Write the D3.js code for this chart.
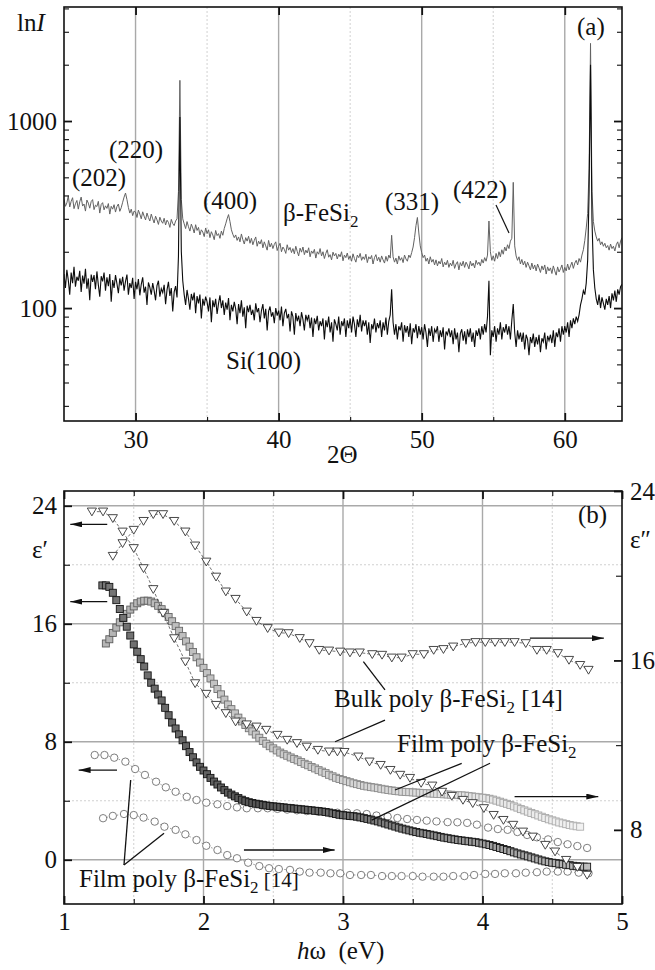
<!DOCTYPE html>
<html>
<head>
<meta charset="utf-8">
<script src="https://cdn.jsdelivr.net/npm/d3@7"></script>
<style>
  body { margin: 0; background: #fff; }
  text { font-family: "Liberation Serif", "Times New Roman", serif; }
</style>
</head>
<body>
<div id="chart"></div>
<script>
// ---------------- data: panel (a) XRD, 2-theta from 25 deg in 0.1 deg steps ----------------
let xrdStart = 25, xrdStep = 0.1;

let fesi2Counts = [
  382,350,365,398,347,372,389,340,361,376, 338,370,392,351,360,330,378,364,342,371,
  380,336,355,349,372,322,358,366,335,352, 341,362,318,350,338,357,326,349,360,329,
  344,368,392,412,380,345,322,338,312,330, 326,305,334,318,300,327,310,296,322,305,
  292,318,300,285,310,296,280,306,292,284, 302,278,295,287,270,298,283,276,292,300,
  420,1650,380,300,282,266,290,272,258,281, 268,252,279,260,270,246,262,255,241,268,
  250,262,238,256,246,232,260,244,250,236, 258,245,266,282,300,316,290,262,248,238,
  246,230,240,226,249,232,220,238,228,242, 222,236,218,230,240,214,228,220,232,210,
  226,215,204,230,212,222,208,219,226,203, 214,222,200,212,206,196,218,204,211,198,
  208,195,214,201,190,209,199,212,193,204, 197,210,188,202,196,206,185,200,194,208,
  190,200,184,196,205,187,193,181,199,190, 196,183,194,188,200,179,192,186,197,182,
  190,178,195,184,176,192,186,196,180,188, 182,194,175,188,183,191,172,186,193,179,
  187,176,190,181,174,189,178,192,185,245, 188,176,185,172,190,180,186,175,192,183,
  178,192,186,198,212,238,276,305,252,215, 198,186,192,178,185,172,188,176,182,170,
  181,168,178,172,184,166,176,170,180,165, 174,168,180,163,172,177,160,175,168,178,
  165,176,170,162,178,168,174,164,180,171, 176,168,182,174,186,178,192,292,200,180,
  190,178,196,184,200,188,205,194,212,202, 218,208,228,236,470,215,190,180,188,172,
  182,170,178,165,176,168,160,174,162,170, 158,172,164,155,168,160,170,152,166,158,
  164,153,168,158,150,166,156,162,170,155, 165,158,172,160,168,176,163,174,180,170,
  184,176,192,205,230,268,320,560,2600,420, 290,258,240,228,236,218,226,214,222,210,
  216,204,220,208,214,202,218,226,210,228, 238
];

let siCounts = [
  152,128,160,141,118,155,136,166,130,147, 140,158,122,149,135,162,127,144,110,151,
  138,150,126,157,133,115,148,139,155,124, 146,131,152,108,141,128,150,135,120,144,
  132,147,124,139,151,118,136,128,145,112, 138,126,143,117,134,146,121,130,104,137,
  129,118,136,124,110,132,140,115,127,121, 133,105,125,138,116,128,96,122,131,114,
  190,1050,200,140,118,104,125,112,98,119, 110,121,94,116,106,118,88,112,103,115,
  108,96,114,84,110,101,112,93,106,117, 100,110,92,107,98,113,86,104,96,108,
  99,82,105,94,110,90,101,78,103,95, 104,92,98,86,106,95,100,84,97,105,
  88,99,76,96,102,90,95,83,100,91, 97,86,102,80,94,99,88,93,75,96,
  90,72,94,85,91,80,95,87,76,92, 86,92,78,89,70,88,82,91,76,85,
  80,88,68,86,79,90,74,84,66,87, 82,76,90,72,85,80,88,70,86,78,
  88,74,90,82,70,87,79,92,75,86, 80,86,72,84,65,82,77,88,74,83,
  78,86,70,84,76,89,72,85,92,126, 84,72,82,68,80,76,84,66,81,74,
  80,70,83,64,78,74,82,69,80,72, 79,68,82,74,62,78,71,80,66,77,
  74,80,66,76,70,79,60,75,72,78, 70,76,64,78,68,74,58,73,77,67,
  75,64,77,70,78,66,74,62,76,71, 78,68,80,72,82,74,90,140,56,76,
  70,80,66,78,72,84,68,79,74,82, 72,80,68,86,105,74,62,76,68,74,
  66,74,60,72,68,56,70,65,73,62, 70,64,72,58,69,66,74,60,71,67,
  72,65,76,62,74,70,78,66,80,72, 80,74,84,70,86,78,88,82,90,85,
  92,104,112,124,118,136,180,420,2000,300, 160,128,112,104,118,100,114,106,98,112,
  104,116,100,120,110,124,108,126,118,130, 134
];

let xrdMajorTicks = [30, 40, 50, 60];
let xrdMinorTicks = [35, 45, 55];
let countMajorTicks = [100, 1000];
let countMinorTicks = [30,40,50,60,70,80,90,200,300,400,500,600,700,800,900,2000,3000,4000];

// ---------------- data: panel (b) dielectric functions ----------------
// bulk poly beta-FeSi2 [14], triangles
let bulkEnergy1 = [1.20,1.28,1.35,1.42,1.50,1.57,1.64,1.71,1.79,1.87,1.94,2.02,2.09,2.16,2.23,2.31,2.38,2.45,2.53,2.60,
  2.67,2.74,2.82,2.90,2.96,3.01,3.11,3.19,3.27,3.34,3.41,3.48,3.56,3.64,3.71,3.78,3.86,3.93,4.01,4.08,
  4.15,4.22,4.29,4.36,4.45,4.52,4.60,4.68,4.75];
let bulkEps1 = [23.6,23.6,23.15,22.24,21.12,19.76,18.34,16.73,15.01,13.43,11.96,11.24,10.49,9.93,9.36,9.17,9.02,8.80,8.46,8.12,
  7.90,7.66,7.44,7.33,7.33,7.30,6.99,6.65,6.42,6.08,5.75,5.54,5.20,5.02,4.60,4.32,4.05,3.83,3.49,3.03,
  2.69,2.36,1.90,1.56,1.00,0.55,-0.02,-0.50,-1.03];

let bulkEnergy2 = [1.35,1.42,1.50,1.57,1.64,1.71,1.79,1.87,1.94,2.02,2.09,2.16,2.23,2.31,2.38,2.46,2.54,2.61,2.69,2.76,
  2.83,2.90,2.98,3.05,3.12,3.21,3.28,3.35,3.42,3.50,3.58,3.65,3.72,3.79,3.88,3.95,4.02,4.09,4.16,4.23,
  4.31,4.39,4.46,4.54,4.62,4.70,4.76];
let bulkEps2 = [20.93,21.53,22.16,22.58,22.90,22.90,22.58,22.08,21.42,20.66,19.95,19.25,18.90,18.30,17.86,17.52,17.31,17.28,17.05,16.81,
  16.49,16.46,16.41,16.37,16.37,16.29,16.26,16.13,16.13,16.29,16.29,16.49,16.53,16.65,16.81,16.86,16.86,16.86,16.86,16.86,
  16.81,16.49,16.49,16.34,16.02,15.78,15.55];

// film poly beta-FeSi2 (this work), squares, 0.025 eV steps
let filmStep = 0.025;
let filmEps1Start = 1.275;
let filmEps1 = [
  18.6,18.6,18.5,18.1,17.6,17.0,16.4,15.8,15.2,14.6, 14.1,13.6,13.1,12.5,12.0,11.6,11.2,10.8,10.3,9.8,
  9.3,8.9,8.5,8.1,7.7,7.3,6.95,6.6,6.3,6.05, 5.8,5.55,5.3,5.1,4.9,4.72,4.55,4.42,4.3,4.18,
  4.07,3.97,3.9,3.85,3.8,3.76,3.72,3.68,3.65,3.62, 3.6,3.57,3.55,3.52,3.5,3.47,3.45,3.42,3.4,3.37,
  3.35,3.32,3.3,3.27,3.24,3.2,3.15,3.1,3.05,3.02, 3.0,2.97,2.95,2.92,2.87,2.82,2.77,2.72,2.66,2.6,
  2.53,2.46,2.39,2.32,2.25,2.18,2.11,2.05,1.99,1.93, 1.88,1.83,1.79,1.75,1.7,1.65,1.6,1.55,1.5,1.46,
  1.42,1.38,1.34,1.31,1.28,1.25,1.22,1.19,1.15,1.1, 1.05,1.0,0.94,0.87,0.8,0.73,0.66,0.58,0.5,0.43,
  0.36,0.3,0.23,0.16,0.09,0.02,-0.05,-0.11,-0.16,-0.2, -0.23,-0.27,-0.3,-0.34,-0.37,-0.41,-0.44,-0.46,-0.47,-0.47
];
let filmEps2Start = 1.30;
let filmEps2 = [
  16.8,17.0,17.3,17.55,17.8,18.0,18.2,18.4,18.55,18.7, 18.78,18.82,18.82,18.78,18.7,18.58,18.42,18.25,18.05,17.85,
  17.62,17.4,17.15,16.9,16.65,16.4,16.15,15.9,15.65,15.4, 15.15,14.9,14.65,14.4,14.15,13.92,13.7,13.5,13.3,13.12,
  12.95,12.8,12.65,12.5,12.35,12.2,12.07,11.95,11.85,11.75, 11.65,11.57,11.5,11.42,11.35,11.28,11.2,11.12,11.05,10.97,
  10.9,10.82,10.75,10.68,10.6,10.53,10.46,10.4,10.35,10.3, 10.25,10.2,10.16,10.12,10.08,10.05,10.02,10.0,9.97,9.94,
  9.91,9.88,9.86,9.84,9.82,9.8,9.79,9.78,9.77,9.76, 9.75,9.74,9.73,9.72,9.71,9.7,9.69,9.68,9.67,9.66,
  9.65,9.64,9.63,9.62,9.6,9.58,9.56,9.54,9.52,9.5, 9.47,9.43,9.38,9.33,9.28,9.23,9.17,9.11,9.05,8.98,
  8.92,8.86,8.8,8.74,8.68,8.62,8.56,8.5,8.45,8.4, 8.35,8.31,8.27,8.23,8.2,8.17,8.15
];

// film poly beta-FeSi2 [14], circles
let refEnergy1 = [1.22,1.29,1.36,1.44,1.51,1.58,1.66,1.73,1.80,1.88,1.95,2.02,2.10,2.17,2.24,2.31,2.39,2.46,2.53,2.60,
  2.67,2.74,2.82,2.89,2.96,3.03,3.10,3.17,3.24,3.32,3.39,3.46,3.53,3.60,3.67,3.75,3.82,3.89,3.96,4.04,
  4.11,4.18,4.25,4.32,4.39,4.47,4.54,4.61,4.68,4.75];
let refEps1 = [7.10,7.10,6.92,6.65,6.15,5.75,5.29,4.91,4.61,4.27,4.05,3.87,3.76,3.64,3.55,3.49,3.49,3.49,3.45,3.40,
  3.35,3.30,3.26,3.22,3.19,3.19,3.15,3.10,3.00,2.93,2.83,2.76,2.70,2.65,2.60,2.55,2.54,2.50,2.38,2.18,
  2.08,2.03,1.88,1.68,1.52,1.38,1.20,1.05,0.93,0.80];

let refEnergy2 = [1.28,1.35,1.43,1.50,1.57,1.65,1.72,1.80,1.87,1.95,2.02,2.10,2.17,2.24,2.32,2.40,2.47,2.54,2.62,2.69,
  2.76,2.84,2.91,2.98,3.05,3.13,3.20,3.28,3.35,3.42,3.50,3.57,3.65,3.72,3.79,3.87,3.94,4.02,4.09,4.16,
  4.24,4.31,4.39,4.46,4.54,4.61,4.69,4.76];
let refEps2 = [8.55,8.66,8.75,8.70,8.58,8.39,8.15,8.00,7.79,7.52,7.25,7.05,6.81,6.66,6.45,6.29,6.19,6.15,6.11,6.03,
  5.98,5.98,5.95,5.95,5.87,5.87,5.87,5.82,5.82,5.82,5.82,5.79,5.79,5.79,5.82,5.82,5.87,5.92,5.92,5.95,
  5.95,5.98,6.00,6.03,6.03,6.03,5.98,5.95];

let energyTicks = [1, 2, 3, 4, 5];
let energyMinor = [1.5, 2.5, 3.5, 4.5];
let eps1Major = [0, 8, 16, 24];
let eps1Minor = [4, 12, 20];
let eps2Labels = [8, 16, 24];
let eps2Minor = [12, 20];

// ---------------- svg ----------------
let width = 655, height = 970;
let fontSize = 25;

let svg = d3.select("#chart")
  .append("svg")
  .attr("width", width)
  .attr("height", height)
  .style("background", "#fff");

let defs = svg.append("defs");
defs.append("marker")
  .attr("id", "arrow")
  .attr("viewBox", "0 0 12 6")
  .attr("refX", 12).attr("refY", 3)
  .attr("markerWidth", 12).attr("markerHeight", 6)
  .attr("markerUnits", "userSpaceOnUse")
  .attr("orient", "auto")
  .append("path").attr("d", "M0,0 L12,3 L0,6 Z").attr("fill", "#111");

function styleAxis(g, bold) {
  g.select(".domain").remove();
  g.selectAll(".tick line").attr("stroke", "#111").attr("stroke-width", bold ? 1.8 : 1.1);
  g.selectAll(".tick text").attr("fill", "#111")
    .attr("font-family", "Liberation Serif, Times New Roman, serif")
    .attr("font-size", fontSize);
  g.attr("font-family", null).attr("font-size", null);
}

////////////////////////////////////////////////////////////
//////////////// Panel (a) /////////////////////////////////
////////////////////////////////////////////////////////////
let a = { left: 64, right: 622, top: 7, bottom: 421 };
let xA = d3.scaleLinear().domain([25, 64]).range([a.left, a.right]);
let yA = d3.scaleLog().domain([24.9, 4070]).range([a.bottom, a.top]);

let gA = svg.append("g").attr("class", "panel-a");

defs.append("clipPath").attr("id", "clipA")
  .append("rect").attr("x", a.left).attr("y", a.top)
  .attr("width", a.right - a.left).attr("height", a.bottom - a.top);

gA.selectAll(".vgrid").data(xrdMajorTicks).enter().append("line")
  .attr("x1", d => xA(d)).attr("x2", d => xA(d))
  .attr("y1", a.top).attr("y2", a.bottom)
  .attr("stroke", "#a9a9a9").attr("stroke-width", 1.4);
gA.selectAll(".vgrid2").data(xrdMinorTicks).enter().append("line")
  .attr("x1", d => xA(d)).attr("x2", d => xA(d))
  .attr("y1", a.top).attr("y2", a.bottom)
  .attr("stroke", "#c4c4c4").attr("stroke-width", 0.8).attr("stroke-dasharray", "2,2");

let xrdLine = d3.line()
  .x((d, i) => xA(xrdStart + i * xrdStep))
  .y(d => yA(d));

let traces = gA.append("g").attr("clip-path", "url(#clipA)");
traces.append("path").datum(fesi2Counts)
  .attr("d", xrdLine).attr("fill", "none")
  .attr("stroke", "#626262").attr("stroke-width", 1);
traces.append("path").datum(siCounts)
  .attr("d", xrdLine).attr("fill", "none")
  .attr("stroke", "#0c0c0c").attr("stroke-width", 1.1);

// axes
gA.append("g").attr("transform", `translate(0,${a.bottom})`)
  .call(d3.axisBottom(xA).tickValues(xrdMajorTicks).tickSizeInner(-8).tickSizeOuter(0).tickPadding(9).tickFormat(d3.format("d")))
  .call(g => styleAxis(g, true));
gA.append("g").attr("transform", `translate(0,${a.bottom})`)
  .call(d3.axisBottom(xA).tickValues(xrdMinorTicks).tickSizeInner(-4).tickSizeOuter(0).tickFormat(""))
  .call(g => styleAxis(g, false));
gA.append("g").attr("transform", `translate(0,${a.top})`)
  .call(d3.axisTop(xA).tickValues(xrdMajorTicks).tickSizeInner(-8).tickSizeOuter(0).tickFormat(""))
  .call(g => styleAxis(g, true));
gA.append("g").attr("transform", `translate(${a.left},0)`)
  .call(d3.axisLeft(yA).tickValues(countMajorTicks).tickSizeInner(-8).tickSizeOuter(0).tickPadding(7).tickFormat(d3.format("d")))
  .call(g => styleAxis(g, true));
gA.append("g").attr("transform", `translate(${a.left},0)`)
  .call(d3.axisLeft(yA).tickValues(countMinorTicks).tickSizeInner(-5).tickSizeOuter(0).tickFormat(""))
  .call(g => styleAxis(g, false));
gA.append("g").attr("transform", `translate(${a.right},0)`)
  .call(d3.axisRight(yA).tickValues(countMajorTicks).tickSizeInner(-8).tickSizeOuter(0).tickFormat(""))
  .call(g => styleAxis(g, true));
gA.append("g").attr("transform", `translate(${a.right},0)`)
  .call(d3.axisRight(yA).tickValues(countMinorTicks).tickSizeInner(-5).tickSizeOuter(0).tickFormat(""))
  .call(g => styleAxis(g, false));

gA.append("rect")
  .attr("x", a.left).attr("y", a.top)
  .attr("width", a.right - a.left).attr("height", a.bottom - a.top)
  .attr("fill", "none").attr("stroke", "#111").attr("stroke-width", 1.6);

// labels
function addText(g, x, y, str, size) {
  return g.append("text").attr("x", x).attr("y", y)
    .attr("font-size", size || fontSize).attr("fill", "#111").text(str);
}
function addSubText(g, x, y, main, sub, tail, tailSize) {
  let t = g.append("text").attr("x", x).attr("y", y)
    .attr("font-size", fontSize).attr("fill", "#111");
  t.append("tspan").text(main);
  t.append("tspan").attr("dy", 6).attr("font-size", 17).text(sub);
  if (tail) t.append("tspan").attr("dy", -6).attr("font-size", tailSize || fontSize).text(tail);
  return t;
}

let lnI = gA.append("text").attr("x", 17).attr("y", 31).attr("font-size", fontSize).attr("fill", "#111");
lnI.append("tspan").text("ln");
lnI.append("tspan").attr("font-style", "italic").text("I");
addText(gA, 327, 463, "2\u0398");
addText(gA, 577, 35, "(a)");
addText(gA, 72, 186, "(202)");
addText(gA, 109, 158, "(220)");
addText(gA, 203, 209, "(400)");
addText(gA, 385, 210, "(331)");
addText(gA, 453, 198, "(422)");
addSubText(gA, 283, 221, "\u03b2-FeSi", "2");
addText(gA, 226, 369, "Si(100)");
gA.append("line").attr("x1", 496).attr("y1", 205).attr("x2", 509).attr("y2", 233)
  .attr("stroke", "#111").attr("stroke-width", 1.2);

////////////////////////////////////////////////////////////
//////////////// Panel (b) /////////////////////////////////
////////////////////////////////////////////////////////////
let b = { left: 64, right: 622, top: 491, bottom: 904 };
let xB = d3.scaleLinear().domain([1, 5]).range([b.left, b.right]);
let yL = d3.scaleLinear().domain([-3, 25]).range([b.bottom, b.top]);
let yR = d3.scaleLinear().domain([4.5, 24]).range([b.bottom, b.top]);

let gB = svg.append("g").attr("class", "panel-b");
defs.append("clipPath").attr("id", "clipB")
  .append("rect").attr("x", b.left).attr("y", b.top)
  .attr("width", b.right - b.left).attr("height", b.bottom - b.top);

gB.selectAll(".hgrid").data(eps1Major).enter().append("line")
  .attr("x1", b.left).attr("x2", b.right)
  .attr("y1", d => yL(d)).attr("y2", d => yL(d))
  .attr("stroke", "#a9a9a9").attr("stroke-width", 1.4);
gB.selectAll(".hgrid2").data(eps1Minor).enter().append("line")
  .attr("x1", b.left).attr("x2", b.right)
  .attr("y1", d => yL(d)).attr("y2", d => yL(d))
  .attr("stroke", "#c4c4c4").attr("stroke-width", 0.8).attr("stroke-dasharray", "2,2");
gB.selectAll(".vgrid").data([2, 3, 4]).enter().append("line")
  .attr("x1", d => xB(d)).attr("x2", d => xB(d))
  .attr("y1", b.top).attr("y2", b.bottom)
  .attr("stroke", "#a9a9a9").attr("stroke-width", 1.4);
gB.selectAll(".vgrid2").data(energyMinor).enter().append("line")
  .attr("x1", d => xB(d)).attr("x2", d => xB(d))
  .attr("y1", b.top).attr("y2", b.bottom)
  .attr("stroke", "#c4c4c4").attr("stroke-width", 0.8).attr("stroke-dasharray", "2,2");

let marks = gB.append("g").attr("clip-path", "url(#clipB)");

function zip(xs, ys) { return ys.map((v, i) => [xs[i], v]); }
function stepped(start, ys) { return ys.map((v, i) => [start + i * filmStep, v]); }

// film [14] circles
let circleSets = [
  { pts: zip(refEnergy1, refEps1), y: yL },
  { pts: zip(refEnergy2, refEps2), y: yR }
];
circleSets.forEach(s => {
  marks.append("path").datum(s.pts)
    .attr("d", d3.line().x(d => xB(d[0])).y(d => s.y(d[1])))
    .attr("fill", "none").attr("stroke", "#666").attr("stroke-width", 0.7).attr("stroke-dasharray", "1.5,2");
  marks.selectAll(null).data(s.pts).enter().append("circle")
    .attr("cx", d => xB(d[0])).attr("cy", d => s.y(d[1])).attr("r", 3.7)
    .attr("fill", "#fff").attr("stroke", "#6f6f6f").attr("stroke-width", 0.9);
});

// film squares
let lightSq = stepped(filmEps2Start, filmEps2);
let darkSq = stepped(filmEps1Start, filmEps1);
let lightStroke = d3.scaleLinear().domain([1.3, 4.7]).range(["#5a5a5a", "#b0b0b0"]);
let lightFill = d3.scaleLinear().domain([1.3, 4.7]).range(["#b5b5b5", "#f2f2f2"]);
marks.selectAll(".sqL").data(lightSq).enter().append("rect")
  .attr("x", d => xB(d[0]) - 3.5).attr("y", d => yR(d[1]) - 3.5)
  .attr("width", 7).attr("height", 7)
  .attr("fill", d => lightFill(d[0])).attr("stroke", d => lightStroke(d[0])).attr("stroke-width", 0.9);
let darkFill = d3.scaleLinear().domain([1.3, 2.4, 4.7]).range(["#777", "#555", "#bbb"]);
marks.selectAll(".sqD").data(darkSq).enter().append("rect")
  .attr("x", d => xB(d[0]) - 3.5).attr("y", d => yL(d[1]) - 3.5)
  .attr("width", 7).attr("height", 7)
  .attr("fill", d => darkFill(d[0])).attr("stroke", "#151515").attr("stroke-width", 0.9);

// bulk triangles
let triangle = "M-4.6,-3.6 L4.6,-3.6 L0,4.2 Z";
let triSets = [
  { pts: zip(bulkEnergy1, bulkEps1), y: yL },
  { pts: zip(bulkEnergy2, bulkEps2), y: yR }
];
triSets.forEach(s => {
  marks.append("path").datum(s.pts)
    .attr("d", d3.line().x(d => xB(d[0])).y(d => s.y(d[1])))
    .attr("fill", "none").attr("stroke", "#333").attr("stroke-width", 0.7).attr("stroke-dasharray", "3,2");
  marks.selectAll(null).data(s.pts).enter().append("path")
    .attr("d", triangle)
    .attr("transform", d => `translate(${xB(d[0])},${s.y(d[1])})`)
    .attr("fill", "#fff").attr("stroke", "#333").attr("stroke-width", 0.9);
});

// axes
gB.append("g").attr("transform", `translate(0,${b.bottom})`)
  .call(d3.axisBottom(xB).tickValues(energyTicks).tickSizeInner(-8).tickSizeOuter(0).tickPadding(8).tickFormat(d3.format("d")))
  .call(g => styleAxis(g, true));
gB.append("g").attr("transform", `translate(0,${b.bottom})`)
  .call(d3.axisBottom(xB).tickValues(energyMinor).tickSizeInner(-5).tickSizeOuter(0).tickFormat(""))
  .call(g => styleAxis(g, false));
gB.append("g").attr("transform", `translate(0,${b.top})`)
  .call(d3.axisTop(xB).tickValues(energyTicks).tickSizeInner(-8).tickSizeOuter(0).tickFormat(""))
  .call(g => styleAxis(g, true));
gB.append("g").attr("transform", `translate(0,${b.top})`)
  .call(d3.axisTop(xB).tickValues(energyMinor).tickSizeInner(-5).tickSizeOuter(0).tickFormat(""))
  .call(g => styleAxis(g, false));
gB.append("g").attr("transform", `translate(${b.left},0)`)
  .call(d3.axisLeft(yL).tickValues(eps1Major).tickSizeInner(-8).tickSizeOuter(0).tickPadding(7).tickFormat(d3.format("d")))
  .call(g => styleAxis(g, true));
gB.append("g").attr("transform", `translate(${b.left},0)`)
  .call(d3.axisLeft(yL).tickValues(eps1Minor).tickSizeInner(-6).tickSizeOuter(0).tickFormat(""))
  .call(g => styleAxis(g, false));
gB.append("g").attr("transform", `translate(${b.right},0)`)
  .call(d3.axisRight(yR).tickValues(eps2Labels).tickSizeInner(-8).tickSizeOuter(0).tickPadding(8).tickFormat(d3.format("d")))
  .call(g => styleAxis(g, true));
gB.append("g").attr("transform", `translate(${b.right},0)`)
  .call(d3.axisRight(yR).tickValues(eps2Minor).tickSizeInner(-6).tickSizeOuter(0).tickFormat(""))
  .call(g => styleAxis(g, false));

gB.append("rect")
  .attr("x", b.left).attr("y", b.top)
  .attr("width", b.right - b.left).attr("height", b.bottom - b.top)
  .attr("fill", "none").attr("stroke", "#111").attr("stroke-width", 1.6);

// axis titles
addText(gB, 32, 558, "\u03b5\u2032");
addText(gB, 630, 548, "\u03b5\u2033");
addText(gB, 578, 523, "(b)");
let hw = gB.append("text").attr("x", 297).attr("y", 959).attr("font-size", fontSize).attr("fill", "#111");
hw.append("tspan").attr("font-style", "italic").text("h");
hw.append("tspan").text("\u03c9\u00a0\u00a0(eV)");

// arrows pointing to the axis each curve belongs to
let arrows = [
  { x1: 1.31, x2: 1.045, v: 22.74, y: yL },
  { x1: 1.31, x2: 1.045, v: 17.5, y: yL },
  { x1: 1.38, x2: 1.105, v: 6.08, y: yL },
  { x1: 4.34, x2: 4.87, v: 17.05, y: yR },
  { x1: 4.23, x2: 4.83, v: 9.57, y: yR },
  { x1: 2.29, x2: 2.94, v: 7.05, y: yR }
];
gB.selectAll(".arrow").data(arrows).enter().append("line")
  .attr("x1", d => xB(d.x1)).attr("x2", d => xB(d.x2))
  .attr("y1", d => d.y(d.v)).attr("y2", d => d.y(d.v))
  .attr("stroke", "#111").attr("stroke-width", 1.3)
  .attr("marker-end", "url(#arrow)");

// leader lines from the labels to the curves
let leaders = [
  [3.301, 11.51, 3.146, 13.43],
  [3.301, 9.47, 2.943, 8.0],
  [3.851, 6.54, 3.373, 4.73],
  [4.054, 6.54, 3.206, 2.69],
  [1.430, -0.36, 1.478, 5.41],
  [1.430, -0.36, 1.717, 1.79]
];
gB.selectAll(".leader").data(leaders).enter().append("line")
  .attr("x1", d => xB(d[0])).attr("y1", d => yL(d[1]))
  .attr("x2", d => xB(d[2])).attr("y2", d => yL(d[3]))
  .attr("stroke", "#111").attr("stroke-width", 1.3);

addSubText(gB, 334, 707, "Bulk poly \u03b2-FeSi", "2", " [14]");
addSubText(gB, 397, 752, "Film poly \u03b2-FeSi", "2");
addSubText(gB, 79, 887, "Film poly \u03b2-FeSi", "2", " [14]", 21);
</script>
</body>
</html>
